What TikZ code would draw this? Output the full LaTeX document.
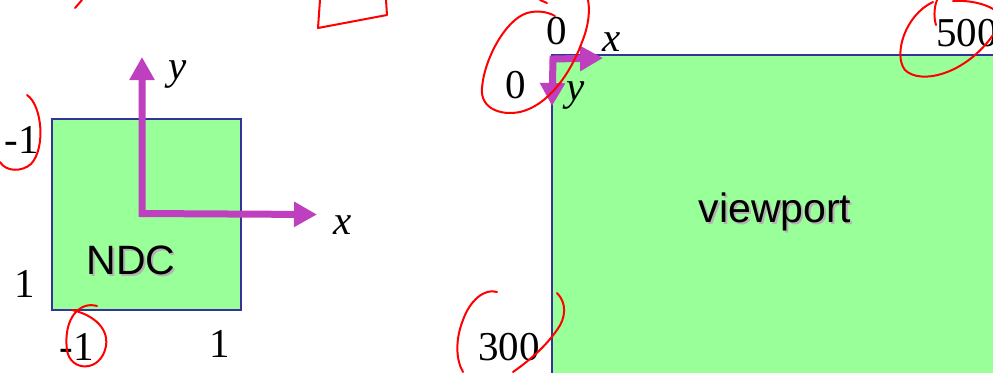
\documentclass[tikz,border=0pt]{standalone}
\usepackage{fontspec}
\setmainfont{Liberation Serif}
\setsansfont{Liberation Sans}
\usetikzlibrary{arrows.meta}
\definecolor{boxgreen}{RGB}{153,255,153}
\definecolor{boxblue}{RGB}{51,51,153}
\definecolor{axismag}{RGB}{190,64,190}
\newcommand{\dropshadow}[1]{\makebox[0pt][l]{\kern1pt\raisebox{-1pt}{\color{black!30}#1}}#1}
\tikzset{
  area/.style={draw=boxblue, fill=boxgreen, line width=1pt, inner sep=0pt},
  axis/.style={axismag, line width=3.5pt,
    {Triangle[length=11.5pt,width=12pt]}-{Triangle[length=11.5pt,width=12pt]}},
  num/.style={inner sep=0pt, font=\fontsize{20.5}{24}\selectfont},
  axlbl/.style={inner sep=0pt, font=\fontsize{20.5}{24}\selectfont\itshape},
  areaname/.style={inner sep=0pt, font=\fontsize{20.5}{24}\selectfont\sffamily},
  ink/.style={red, line width=1pt, line cap=round, line join=round}
}

\begin{document}
\begin{tikzpicture}[x=0.5pt, y=-0.5pt]
  \useasboundingbox (0,0) rectangle (993,372);
  \clip (0,0) rectangle (993,372);

  % NDC square
  \node[area, minimum width=94.5pt, minimum height=95.5pt] (ndc) at (146.5,214.5) {};
  \node[areaname] (ndcname) at (131,261) {\dropshadow{NDC}};
  \coordinate (ndcO) at (142,213.5);
  \coordinate (ndcY) at (142,57);
  \coordinate (ndcX) at (317,214.5);
  \draw[axis] (ndcY) -- (ndcO) -- (ndcX);
  \node[axlbl] (ndcylbl) at (178,75) {y};
  \node[axlbl] (ndcxlbl) at (343,225) {x};
  \node[num] (ndctop) at (22,140) {-1};
  \node[num] (ndcbot) at (25,284) {1};
  \node[num] (ndcleft) at (77,347) {-1};
  \node[num] (ndcright) at (220,344) {1};

  % viewport
  \node[area, minimum width=229pt, minimum height=172.5pt] (port) at (781,227.5) {};
  \node[areaname] (portname) at (775,213) {\dropshadow{viewport}};
  \coordinate (portO) at (553,59);
  \coordinate (portX) at (603,58);
  \coordinate (portY) at (552,106);
  \draw[axis] (portY) -- (portO) -- (portX);
  \node[axlbl] (portxlbl) at (612,42) {x};
  \node[axlbl] (portylbl) at (576,96) {y};
  \node[num] (portx0) at (557,31) {0};
  \node[num] (porty0) at (516,85) {0};
  \node[num, anchor=west] (portw) at (936,33) {500};
  \node[num] (porth) at (509,347) {300};

  % red pen marks
  \draw[ink] (75,8) -- (82,0);
  \draw[ink] (320,0) -- (318,28) -- (387,15) -- (386,0);
  \draw[ink] (27,95) .. controls (42,105) and (46,148) .. (31,164) .. controls (22,172) and (6,172) .. (0,162);
  \draw[ink] (97,306) .. controls (80,301) and (63,318) .. (67,350) .. controls (70,372) and (101,373) .. (106,346) .. controls (109,326) and (90,314) .. (72,310);
  \draw[ink] (540,0) -- (547,3);
  \draw[ink] (588,0) .. controls (590,10) and (589,25) .. (582,42) .. controls (572,70) and (550,105) .. (520,112) .. controls (500,116) and (480,108) .. (482,88) .. controls (484,60) and (505,20) .. (527,13) .. controls (538,10) and (548,12) .. (555,16);
  \draw[ink] (936,25) .. controls (933,15) and (935,5) .. (937,0);
  \draw[ink] (933,2) .. controls (905,15) and (893,55) .. (905,70) .. controls (920,85) and (965,75) .. (993,35);
  \draw[ink] (953,1) .. controls (970,0) and (985,4) .. (993,9);
  \draw[ink] (497,292) .. controls (485,288) and (470,300) .. (463,320) .. controls (455,340) and (456,360) .. (463,372);
  \draw[ink] (557,293) .. controls (567,303) and (566,318) .. (557,330) .. controls (545,347) and (530,360) .. (513,372);
\end{tikzpicture}
\end{document}
